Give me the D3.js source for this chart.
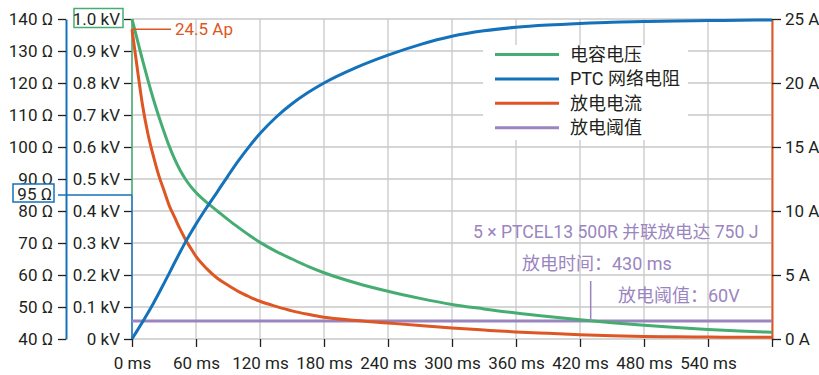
<!DOCTYPE html>
<html>
<head>
<meta charset="utf-8">
<script src="https://cdn.jsdelivr.net/npm/d3@7"></script>
<style>
  body { margin: 0; background: #fff; }
  text { font-family: Roboto, "Noto Sans CJK SC", sans-serif; }
</style>
</head>
<body>
<div id="box"></div>
<script>
// time samples (ms)
var times = [0, 5, 10, 15, 20, 25, 30, 35, 40, 45, 50, 55, 60, 70, 80, 90, 100, 110, 120, 135, 150, 165, 180, 210, 240, 270, 300, 330, 360, 390, 420, 450, 480, 510, 540, 570, 600];
// capacitor voltage (kV)
var voltage = [1.0, 0.935, 0.87, 0.808, 0.75, 0.697, 0.648, 0.602, 0.562, 0.528, 0.500, 0.477, 0.458, 0.427, 0.40, 0.373, 0.348, 0.324, 0.302, 0.274, 0.250, 0.227, 0.207, 0.175, 0.149, 0.127, 0.108, 0.094, 0.081, 0.070, 0.060, 0.051, 0.043, 0.036, 0.030, 0.025, 0.021];
// PTC network resistance (ohm)
var resistance = [40, 42.7, 45.4, 48.2, 51.1, 54.2, 57.4, 60.6, 63.9, 67.1, 70.2, 73.1, 75.9, 81.1, 86, 91, 95.8, 100.2, 104.2, 109.3, 113.5, 117, 120, 124.8, 128.7, 132, 134.6, 136.3, 137.4, 138.1, 138.6, 139, 139.2, 139.4, 139.5, 139.6, 139.7];
// discharge current (A)
var current = [24.2, 21.1, 18.2, 16.0, 14.3, 12.8, 11.6, 10.4, 9.5, 8.6, 7.8, 7.1, 6.45, 5.5, 4.75, 4.2, 3.7, 3.3, 2.95, 2.55, 2.2, 1.93, 1.7, 1.45, 1.25, 1.05, 0.86, 0.7, 0.55, 0.44, 0.34, 0.26, 0.2, 0.17, 0.15, 0.14, 0.13];
// discharge threshold (kV)
var threshold = 0.056;
var dischargeTime = 430;

var seriesNames = ["电容电压", "PTC 网络电阻", "放电电流", "放电阈值"];
var seriesColors = ["#46ad72", "#1472bb", "#de5623", "#9a85bf"];

var xTicks = [0, 60, 120, 180, 240, 300, 360, 420, 480, 540, 600];
var kvTicks = [0, 0.1, 0.2, 0.3, 0.4, 0.5, 0.6, 0.7, 0.8, 0.9, 1.0];
var ohmTicks = [40, 50, 60, 70, 80, 90, 100, 110, 120, 130, 140];
var ampTicks = [0, 5, 10, 15, 20, 25];

var width = 819, height = 375;
var plotTop = 19, plotBottom = 339, plotLeft = 132, plotRight = 772;
var ink = "#231f20", grid = "#c8c8c8";

var svg = d3.select("#box").append("svg")
  .attr("width", width)
  .attr("height", height);

var x = d3.scaleLinear().domain([0, 600]).range([plotLeft, plotRight]);
var yV = d3.scaleLinear().domain([0, 1]).range([plotBottom, plotTop]);
var yR = d3.scaleLinear().domain([40, 140]).range([plotBottom, plotTop]);
var yA = d3.scaleLinear().domain([0, 25]).range([plotBottom, plotTop]);

// grid
svg.append("g").selectAll("line").data(xTicks).enter().append("line")
  .attr("x1", d => x(d)).attr("x2", d => x(d))
  .attr("y1", plotTop).attr("y2", plotBottom)
  .attr("stroke", grid).attr("stroke-width", 1.3);
svg.append("g").selectAll("line").data(kvTicks).enter().append("line")
  .attr("x1", plotLeft).attr("x2", plotRight)
  .attr("y1", d => yV(d)).attr("y2", d => yV(d))
  .attr("stroke", grid).attr("stroke-width", 1.3);

// legend background hides the grid
svg.append("rect").attr("x", 483).attr("y", 45).attr("width", 205).attr("height", 95).attr("fill", "#fff");

function styleAxis(g, domainColor) {
  g.selectAll(".tick line").attr("stroke", ink).attr("stroke-width", 1.3);
  g.selectAll(".tick text").attr("fill", ink).style("font-size", "17px");
  g.select(".domain").attr("stroke", domainColor).attr("stroke-width", 2);
}

// left ohm axis
var gR = svg.append("g").attr("transform", "translate(66,0)")
  .call(d3.axisLeft(yR).tickValues(ohmTicks).tickSize(8).tickSizeOuter(0).tickPadding(5).tickFormat(d => d + " Ω"));
styleAxis(gR, seriesColors[1]);

// kV axis
var gV = svg.append("g").attr("transform", "translate(" + plotLeft + ",0)")
  .call(d3.axisLeft(yV).tickValues(kvTicks).tickSize(8).tickSizeOuter(0).tickPadding(4)
    .tickFormat(d => (d === 0 ? "0" : d3.format(".1f")(d)) + " kV"));
styleAxis(gV, "none");

// right amp axis
var gA = svg.append("g").attr("transform", "translate(" + plotRight + ",0)")
  .call(d3.axisRight(yA).tickValues(ampTicks).tickSize(9).tickSizeOuter(0).tickPadding(4).tickFormat(d => d + " A"));
styleAxis(gA, seriesColors[2]);

// bottom axis
var gX = svg.append("g").attr("transform", "translate(0," + plotBottom + ")")
  .call(d3.axisBottom(x).tickValues(xTicks).tickSize(8).tickSizeOuter(0).tickPadding(10)
    .tickFormat(d => d === 600 ? "" : d + " ms"));
styleAxis(gX, "none");

// y-axis markers at t = 0
var yMark = yV(0.45);
svg.append("line").attr("x1", plotLeft).attr("x2", plotLeft).attr("y1", plotTop).attr("y2", yMark)
  .attr("stroke", seriesColors[0]).attr("stroke-width", 1.5);
svg.append("line").attr("x1", plotLeft).attr("x2", plotLeft).attr("y1", yMark).attr("y2", plotBottom)
  .attr("stroke", seriesColors[1]).attr("stroke-width", 1.5);
svg.append("line").attr("x1", 58).attr("x2", plotLeft).attr("y1", yMark).attr("y2", yMark)
  .attr("stroke", seriesColors[1]).attr("stroke-width", 1.5);
svg.append("rect").attr("x", 13).attr("y", yMark - 11).attr("width", 41).attr("height", 18)
  .attr("fill", "#fff").attr("stroke", seriesColors[1]).attr("stroke-width", 1.5);
svg.append("text").attr("x", 52).attr("y", yMark).attr("dy", "0.32em").attr("text-anchor", "end")
  .attr("fill", ink).style("font-size", "17px").text("95 Ω");
gV.selectAll(".tick").filter(d => d === 1).insert("rect", "text")
  .attr("x", -58).attr("y", -11).attr("width", 49).attr("height", 19)
  .attr("fill", "#fff").attr("stroke", seriesColors[0]).attr("stroke-width", 1.5);

// threshold line
svg.append("line").attr("x1", plotLeft).attr("x2", plotRight).attr("y1", yV(threshold)).attr("y2", yV(threshold))
  .attr("stroke", seriesColors[3]).attr("stroke-width", 3);

// curves
function curvePath(vals, scale) {
  return d3.line().x((d, i) => x(times[i])).y(d => scale(d)).curve(d3.curveMonotoneX)(vals);
}
svg.append("path").attr("d", curvePath(voltage, yV)).attr("fill", "none")
  .attr("stroke", seriesColors[0]).attr("stroke-width", 3);
svg.append("path").attr("d", curvePath(current, yA)).attr("fill", "none")
  .attr("stroke", seriesColors[2]).attr("stroke-width", 3);
svg.append("path").attr("d", curvePath(resistance, yR)).attr("fill", "none")
  .attr("stroke", seriesColors[1]).attr("stroke-width", 3);

// peak current note
svg.append("line").attr("x1", plotLeft).attr("x2", 171).attr("y1", yA(current[0])).attr("y2", yA(current[0]))
  .attr("stroke", seriesColors[2]).attr("stroke-width", 1.5);
svg.append("text").attr("x", 175).attr("y", yA(current[0])).attr("dy", "0.35em")
  .attr("fill", seriesColors[2]).style("font-size", "17px").text("24.5 Ap");

// discharge notes
svg.append("line").attr("x1", x(dischargeTime)).attr("x2", x(dischargeTime))
  .attr("y1", 281).attr("y2", yV(threshold))
  .attr("stroke", seriesColors[3]).attr("stroke-width", 1.5);
var notes = [
  ["5 × PTCEL13 500R 并联放电达 750 J", 473, 232, 17.6],
  ["放电时间：430 ms", 522, 264, 18],
  ["放电阈值：60V", 618, 296, 18]
];
svg.append("g").selectAll("text").data(notes).enter().append("text")
  .attr("x", d => d[1]).attr("y", d => d[2]).attr("dy", "0.35em")
  .attr("fill", seriesColors[3]).style("font-size", d => d[3] + "px").text(d => d[0]);

// legend
var leg = svg.append("g").selectAll("g").data(seriesNames).enter().append("g")
  .attr("transform", (d, i) => "translate(495," + (54.5 + i * 24.4) + ")");
leg.append("line").attr("x1", 0).attr("x2", 64)
  .attr("stroke", (d, i) => seriesColors[i]).attr("stroke-width", 3);
leg.append("text").attr("x", 75).attr("dy", "0.35em")
  .attr("fill", ink).style("font-size", "18px").text(d => d);
</script>
</body>
</html>
